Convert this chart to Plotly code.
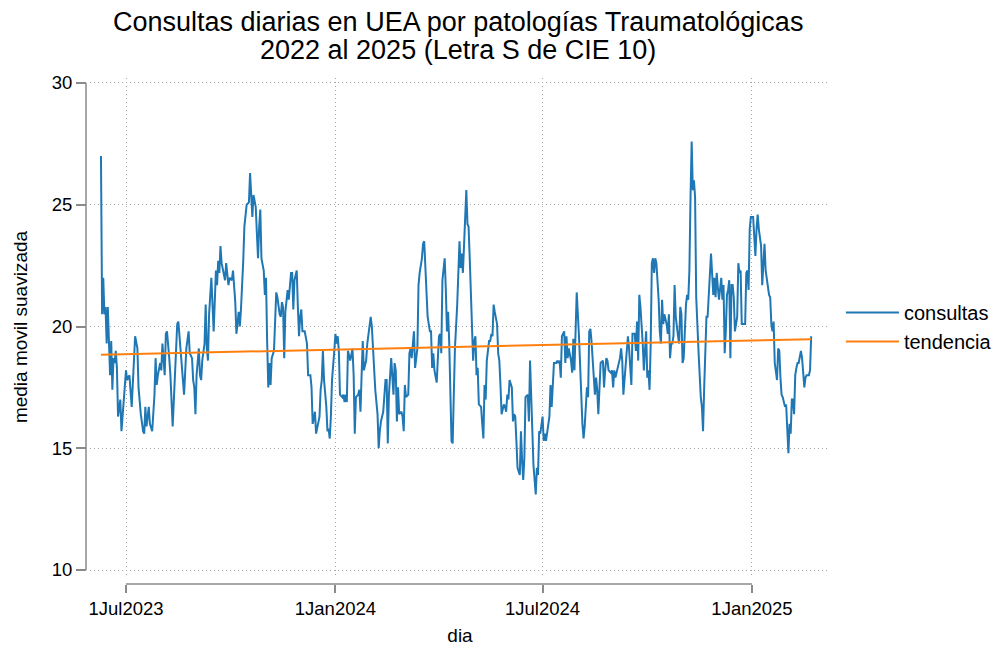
import pandas as pd
import plotly.graph_objects as go

# dias desde 1Jul2023 (lectura del grafico) y media movil suavizada
origen = pd.Timestamp("2023-07-01")

dia_offset = [
    -22, -21, -20, -19, -18, -17, -16, -15, -14, -13, -12, -11, -10, -9, -8, -7, -5, -4, -2, 0,
    1, 3, 5, 7, 8, 10, 11, 13, 15, 16, 17, 18, 20, 21, 23, 25, 26, 27, 28, 30,
    31, 32, 34, 35, 36, 38, 39, 41, 43, 45, 46, 48, 49, 50, 51, 53, 55, 56,
    58, 59, 60, 61, 62, 64, 65, 66, 67, 69, 70, 71, 72, 73, 75, 77, 78, 79, 80, 81,
    82, 83, 84, 86, 87, 88, 90, 91, 93, 94, 96, 97, 98, 99, 100, 101, 103, 104, 106, 108,
    109, 110, 111, 112, 114, 115, 116, 117, 118, 119, 121, 122, 123, 124, 125, 126, 127, 128, 130, 131,
    132, 133, 135,
    136, 137, 138, 139, 140, 142, 143, 145, 146, 147, 148, 150, 151, 152, 153, 154, 155, 157, 159, 160,
    162, 163, 164, 166, 167, 169, 170, 171, 172, 173, 174, 176, 177, 178, 179, 180, 181, 183, 184, 185,
    186, 187, 188, 190, 191, 192, 193, 194, 195, 197, 198, 199, 200, 201, 202, 204, 205, 206, 207, 208,
    209, 211, 212, 214,
    215, 216, 218, 219, 221, 222, 223, 224, 226, 228, 229, 230, 231, 232, 233, 235, 236, 237, 238, 239,
    240, 242, 243, 244, 245, 246, 248, 249, 250, 251, 253, 254, 255, 256, 257, 258, 260, 261, 262, 263,
    264, 265, 267, 268, 269, 270, 271, 273, 274, 275, 276, 277, 278, 280, 281, 282, 283, 284, 286, 287,
    288, 289, 291,
    293, 294, 295, 296, 298, 299, 300, 301, 302, 303, 305, 306, 307, 308, 309, 310, 312, 313, 314, 315,
    316, 317, 319, 320, 321, 322, 323, 324, 326, 327, 328, 329, 330, 332, 333, 334, 335, 336, 337, 339,
    340, 341, 342, 343, 344, 346, 347, 348, 349, 350, 351, 353, 354, 355, 356, 357, 358, 360, 361, 362,
    363, 364, 365, 366, 367, 368, 369,
    372, 373, 374, 375, 376, 378, 379, 380, 381, 382, 383, 385, 386, 387, 388, 389, 391, 392, 393, 394,
    395, 396, 398, 399, 400, 401, 402, 403, 405, 406, 407, 408, 409, 410, 412, 413, 414, 415, 416, 417,
    419, 420, 421, 422, 423, 424, 426, 427, 428, 429, 430, 431, 433, 434, 435, 436, 437, 438, 440, 441,
    442, 443, 444, 445, 447, 448, 449, 450, 451,
    452, 453, 454, 455, 457, 458, 459, 460, 461, 462, 463, 464, 465, 466, 468, 469, 470, 471, 472, 473,
    475, 476, 477, 478, 479, 480, 481, 482, 483, 485, 486, 487, 488, 489, 490, 492, 493, 494, 495, 496,
    497, 498, 499, 500, 501, 503, 504, 505, 506, 507, 508, 510, 511, 512, 513, 514, 516, 517, 518, 519,
    520, 521, 523, 524, 525, 526, 527, 528, 529,
    530, 531, 532, 533, 534, 535, 537, 538, 539, 540, 541, 542, 544, 545, 546, 547, 548, 549, 551, 552,
    553, 554, 555, 556, 558, 559, 560, 561, 562, 563, 565, 566, 567, 568, 569, 570, 572, 573, 574, 575,
    576, 577, 579, 580, 581, 582, 583, 584, 585, 586, 587, 588, 589, 590, 591, 593, 594, 595, 596, 597,
    598, 600, 601, 602,
]

consultas = [
    27.0, 20.5, 22.0, 20.5, 20.8, 19.3, 20.8, 19.3, 18.0, 19.4, 17.4, 18.7, 18.5, 19.0, 18.3, 16.3, 17.0, 15.7, 17.2, 18.2,
    17.8, 18.0, 16.7, 19.0, 19.6, 19.1, 17.5, 16.4, 15.7, 15.6, 16.7, 15.9, 16.7, 16.0, 15.7, 17.2, 18.7, 17.6, 18.0, 18.5,
    18.2, 19.3, 18.0, 19.7, 19.8, 18.7, 18.0, 15.9, 18.0, 20.1, 20.2, 18.9, 18.6, 17.8, 17.2, 19.1, 19.8, 18.9,
    18.7, 17.8, 17.5, 16.4, 18.0, 19.1, 18.0, 17.8, 18.6, 19.3, 20.9, 19.1, 18.6, 20.5, 22.0, 19.8, 21.2, 22.3, 21.7, 22.7,
    22.2, 23.3, 22.6, 22.2, 21.9, 22.6, 21.7, 22.0, 21.9, 22.3, 21.0, 19.7, 20.1, 20.6, 20.0, 20.7, 22.7, 24.1, 25.0, 25.1,
    26.3, 25.2, 24.5, 25.4, 24.9, 23.8, 22.8, 24.1, 24.8, 22.8, 22.3, 21.3, 22.0, 19.4, 17.5, 18.5, 17.6, 18.7, 19.0, 20.2,
    21.4, 21.2, 20.5,
    20.4, 21.0, 20.8, 18.7, 20.6, 21.5, 21.1, 22.2, 22.2, 20.7, 21.9, 22.3, 20.8, 19.6, 20.4, 20.7, 19.8, 19.8, 19.3, 18.0,
    18.0, 17.5, 16.0, 16.5, 15.6, 16.1, 16.3, 17.4, 17.8, 19.0, 17.8, 16.7, 15.7, 15.8, 15.4, 16.3, 17.8, 19.0, 19.7, 19.3,
    19.6, 19.0, 17.2, 17.1, 17.2, 16.9, 17.2, 16.9, 19.0, 18.6, 18.8, 19.1, 18.0, 15.6, 17.1, 17.2, 17.4, 16.5, 18.0, 19.4,
    18.2, 18.6, 19.3, 20.2,
    20.4, 20.0, 18.3, 17.4, 16.4, 15.0, 15.7, 16.1, 16.5, 17.8, 17.8, 15.2, 17.2, 18.3, 18.7, 17.2, 18.5, 18.2, 16.1, 17.5,
    16.4, 16.5, 16.3, 15.7, 17.6, 17.1, 17.2, 18.9, 19.1, 18.7, 19.8, 18.3, 18.7, 19.1, 21.7, 22.2, 22.8, 23.4, 23.5, 22.4,
    21.1, 20.4, 19.8, 19.8, 18.3, 18.9, 18.2, 17.7, 18.7, 19.6, 19.7, 18.9, 21.9, 22.8, 21.5, 19.8, 20.6, 19.3, 15.3, 15.2,
    17.2, 19.1, 20.9,
    23.5, 22.4, 23.0, 22.2, 24.2, 25.6, 24.2, 24.1, 22.8, 21.6, 18.6, 19.4, 19.6, 18.0, 18.3, 16.8, 16.7, 16.0, 15.4, 17.6,
    17.0, 18.6, 19.4, 19.4, 19.7, 19.6, 20.9, 20.6, 20.1, 18.9, 18.6, 17.6, 16.4, 16.8, 16.7, 16.5, 17.2, 17.0, 17.8, 17.5,
    16.1, 16.4, 16.3, 15.3, 14.2, 13.9, 15.7, 14.5, 13.7, 14.6, 17.1, 17.2, 16.1, 18.6, 17.2, 15.7, 14.3, 13.1, 14.2, 13.9,
    15.7, 15.6, 16.1, 16.3, 15.3, 15.6, 15.3,
    16.3, 17.6, 16.7, 17.6, 18.5, 18.5, 18.6, 18.5, 18.6, 17.9, 19.6, 19.8, 18.5, 19.6, 18.7, 19.1, 18.6, 18.1, 19.5, 18.2,
    20.2, 21.4, 19.6, 18.2, 16.5, 16.0, 15.4, 15.9, 17.5, 17.1, 19.8, 19.9, 19.4, 18.5, 17.2, 17.9, 17.4, 16.4, 17.6, 18.5,
    18.6, 17.5, 18.2, 18.7, 18.6, 18.2, 18.1, 18.2, 17.5, 18.2, 17.9, 18.1, 18.5, 18.7, 19.1, 18.6, 17.2, 17.8, 19.3, 19.6,
    19.1, 18.5, 17.6, 19.7, 19.7, 19.0, 20.2, 18.6, 21.3,
    20.8, 20.2, 19.3, 18.2, 19.8, 17.9, 18.2, 17.4, 19.3, 22.6, 22.8, 22.2, 22.8, 22.6, 21.1, 19.8, 19.3, 21.1, 20.1, 20.5,
    20.1, 19.7, 20.5, 18.7, 19.3, 19.3, 19.6, 21.7, 20.4, 19.6, 19.3, 20.8, 20.5, 18.5, 18.7, 20.9, 21.3, 21.1, 22.3, 25.3,
    27.6, 25.6, 26.0, 25.3, 21.2, 19.0, 17.6, 17.1, 16.7, 15.7, 17.5, 20.4, 20.4, 21.2, 22.2, 23.0, 21.3, 22.0, 21.2, 22.2,
    21.6, 21.1, 22.0, 21.1, 21.7, 18.9, 19.8, 21.3, 21.5,
    21.9, 18.7, 21.7, 21.7, 21.2, 19.8, 20.4, 22.6, 22.2, 22.3, 20.1, 20.1, 20.1, 22.2, 22.3, 21.5, 24.0, 24.5, 24.5, 23.7,
    22.9, 24.0, 24.6, 24.0, 23.3, 21.7, 22.8, 23.4, 22.3, 22.0, 21.3, 21.2, 20.1, 19.8, 20.2, 18.5, 17.8, 19.1, 19.0, 17.9,
    17.2, 17.1, 16.7, 16.8, 16.0, 14.8, 16.0, 15.6, 17.0, 17.0, 16.4, 18.0, 18.3, 18.5, 18.5, 19.0, 18.7, 18.2, 17.5, 17.9,
    18.0, 18.0, 18.2, 19.6,
]

# recta de tendencia (extremos)
tendencia_offset = [-22, 602]
tendencia = [18.84, 19.48]

y_ticks = [10, 15, 20, 25, 30]
x_ticks = ["2023-07-01", "2024-01-01", "2024-07-01", "2025-01-01"]
x_ticklabels = ["1Jul2023", "1Jan2024", "1Jul2024", "1Jan2025"]

titulo_1 = "Consultas diarias en UEA por patologías Traumatológicas"
titulo_2 = "2022 al 2025 (Letra S de CIE 10)"

dia = origen + pd.to_timedelta(dia_offset, unit="D")
dia_tend = origen + pd.to_timedelta(tendencia_offset, unit="D")

FONT = "Arial, Liberation Sans, sans-serif"
AXIS_GRAY = "#8a8a8a"
GRID_GRAY = "#a6a6a6"

fig = go.Figure()
fig.add_trace(go.Scatter(x=dia, y=consultas, mode="lines", name="consultas",
                         line=dict(color="#1f77b4", width=2)))
fig.add_trace(go.Scatter(x=dia_tend, y=tendencia, mode="lines", name="tendencia",
                         line=dict(color="#ff7f0e", width=2)))

# ejes estilo Stata: lineas solo entre primer y ultimo tick
fig.add_shape(type="line", xref="x", yref="paper", x0=x_ticks[0], x1=x_ticks[-1], y0=0, y1=0,
              line=dict(color=AXIS_GRAY, width=1.5))
fig.add_shape(type="line", xref="paper", yref="y", x0=0, x1=0, y0=y_ticks[0], y1=y_ticks[-1],
              line=dict(color=AXIS_GRAY, width=1.5))

# titulo en dos lineas
fig.add_annotation(text=titulo_1, xref="paper", yref="paper", x=0.5, y=1.1107,
                   xanchor="center", yanchor="middle", showarrow=False,
                   font=dict(size=27, color="black"))
fig.add_annotation(text=titulo_2, xref="paper", yref="paper", x=0.5, y=1.0553,
                   xanchor="center", yanchor="middle", showarrow=False,
                   font=dict(size=27, color="black"))

fig.update_layout(
    width=994, height=652,
    margin=dict(l=86, r=164, t=78, b=68, autoexpand=False),
    paper_bgcolor="white", plot_bgcolor="white",
    font=dict(family=FONT, color="black"),
    xaxis=dict(
        domain=[0.0054, 1], anchor="free", position=0, automargin=False,
        range=["2023-05-30 09:00", "2025-03-10 13:00"],
        tickvals=x_ticks, ticktext=x_ticklabels,
        ticks="outside", ticklen=8, tickwidth=1.5, tickcolor=AXIS_GRAY,
        showline=False, zeroline=False,
        showgrid=True, gridcolor=GRID_GRAY, griddash="1px,3px", gridwidth=1,
        tickfont=dict(size=18.5),
        title=dict(text="dia", font=dict(size=19), standoff=10),
    ),
    yaxis=dict(
        domain=[0.0158, 1], anchor="free", position=0, automargin=False,
        range=[9.754, 30.205],
        tickvals=y_ticks,
        ticks="outside", ticklen=10, tickwidth=1.5, tickcolor=AXIS_GRAY,
        showline=False, zeroline=False,
        showgrid=True, gridcolor=GRID_GRAY, griddash="1px,3px", gridwidth=1,
        tickfont=dict(size=18.5),
        title=dict(text="media movil suavizada", font=dict(size=19), standoff=18),
    ),
    legend=dict(
        xref="container", yref="container",
        x=0.846, y=0.4985, xanchor="left", yanchor="middle",
        font=dict(size=20), itemwidth=53, bgcolor="rgba(0,0,0,0)",
    ),
)

fig.write_html("out.html", config={"displayModeBar": False},
               post_script="document.body.style.margin='0';")
